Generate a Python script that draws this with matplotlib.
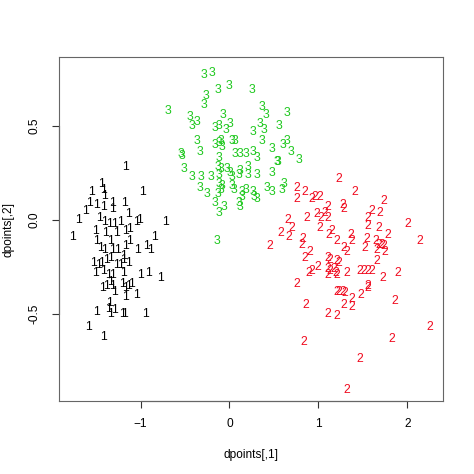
import matplotlib
matplotlib.use('Agg')
from matplotlib import pyplot as plt

# cluster 1 (black)
x1 = [-1.17, -1.44, -1.42, -1.55, -0.98, -1.41, -1.62, -1.57, -1.49, -1.42,
      -1.32, -1.32, -1.18, -1.70, -1.46, -1.41, -1.35, -1.29, -1.22, -1.14,
      -1.05, -1.01, -0.72, -1.77, -1.51, -1.49, -1.39, -1.34, -1.27, -1.17,
      -1.12, -1.12, -0.84, -1.45, -1.40, -1.32, -1.26, -1.17, -1.03, -0.93,
      -0.89, -1.19, -1.53, -1.47, -1.44, -1.38, -1.34, -1.27, -1.23, -1.19,
      -1.14, -1.51, -1.42, -1.36, -1.32, -1.19, -1.00, -0.91, -0.78, -1.43,
      -1.38, -1.34, -1.32, -1.29, -1.20, -1.17, -1.14, -1.10, -1.17, -1.04,
      -1.35, -1.36, -1.50, -1.34, -1.29, -1.20, -1.18, -0.94, -1.59, -1.42]
y1 = [0.28, 0.19, 0.16, 0.15, 0.15, 0.13, 0.05, 0.09, 0.08, 0.07,
      0.09, 0.06, 0.09, 0.00, 0.01, -0.01, -0.02, -0.02, -0.01, 0.03,
      -0.01, 0.00, -0.01, -0.09, -0.06, -0.11, -0.07, -0.11, -0.07, -0.06,
      -0.05, -0.11, -0.09, -0.15, -0.16, -0.16, -0.16, -0.14, -0.16, -0.14,
      -0.16, -0.19, -0.23, -0.24, -0.23, -0.21, -0.20, -0.24, -0.24, -0.21,
      -0.23, -0.28, -0.27, -0.29, -0.29, -0.28, -0.29, -0.28, -0.31, -0.36,
      -0.35, -0.33, -0.35, -0.38, -0.34, -0.36, -0.35, -0.34, -0.41, -0.40,
      -0.44, -0.47, -0.49, -0.50, -0.48, -0.50, -0.50, -0.50, -0.57, -0.62]

# cluster 2 (red)
x2 = [1.23, 0.76, 0.85, 1.41, 1.73, 0.76, 0.93, 0.96, 1.02, 1.10,
      1.27, 1.28, 1.60, 1.69, 1.56, 1.55, 1.68, 2.00, 0.87, 0.98,
      1.07, 1.03, 1.11, 0.66, 0.70, 0.58, 0.67, 1.02, 1.15, 1.12,
      1.21, 1.36, 1.37, 1.54, 1.65, 1.68, 1.71, 1.74, 1.78, 2.14,
      0.82, 0.81, 0.45, 1.29, 1.52, 0.85, 0.90, 0.99, 0.89, 0.92,
      1.32, 1.66, 1.75, 1.66, 1.10, 1.13, 1.21, 1.23, 1.10, 1.13,
      1.17, 1.19, 1.11, 1.21, 1.32, 1.46, 1.51, 1.56, 1.60, 1.72,
      1.89, 0.76, 1.21, 1.23, 1.27, 1.30, 1.38, 1.29, 1.38, 1.48,
      1.55, 1.56, 1.86, 0.86, 1.10, 1.21, 2.25, 0.83, 1.82, 1.46, 1.32]
y2 = [0.22, 0.17, 0.15, 0.15, 0.10, 0.11, 0.11, 0.12, 0.12, 0.07,
      0.08, 0.06, 0.05, 0.04, 0.01, -0.03, -0.04, -0.02, 0.01, 0.03,
      0.04, 0.01, 0.01, 0.00, -0.04, -0.07, -0.09, -0.04, -0.06, -0.08,
      -0.11, -0.08, -0.11, -0.10, -0.11, -0.13, -0.13, -0.14, -0.08, -0.11,
      -0.10, -0.13, -0.14, -0.15, -0.15, -0.20, -0.17, -0.25, -0.28, -0.27,
      -0.17, -0.16, -0.17, -0.22, -0.20, -0.21, -0.22, -0.23, -0.26, -0.27,
      -0.26, -0.28, -0.29, -0.29, -0.28, -0.27, -0.27, -0.27, -0.27, -0.31,
      -0.28, -0.34, -0.38, -0.38, -0.38, -0.39, -0.42, -0.45, -0.46, -0.40,
      -0.35, -0.36, -0.43, -0.45, -0.50, -0.51, -0.57, -0.65, -0.63, -0.74, -0.90]

# cluster 3 (green)
x3 = [-0.29, -0.20, -0.13, -0.01, 0.25, -0.27, -0.29, -0.69, -0.44, -0.42,
      -0.37, -0.07, 0.00, -0.04, -0.16, -0.12, 0.37, 0.41, 0.65, 0.34,
      0.39, 0.56, 0.26, -0.36, -0.16, -0.12, -0.09, -0.10, 0.03, 0.06,
      0.36, 0.48, 0.60, 0.65, -0.55, -0.53, -0.33, 0.06, 0.12, 0.18,
      0.26, 0.69, -0.12, 0.31, 0.53, 0.55, 0.78, -0.51, -0.42, -0.32,
      -0.21, -0.13, -0.12, -0.10, -0.03, 0.01, 0.03, 0.11, 0.12, 0.21,
      0.21, 0.31, 0.48, -0.33, -0.25, -0.13, -0.10, -0.08, -0.12, 0.03,
      0.05, 0.14, 0.18, 0.26, 0.31, 0.28, 0.42, 0.48, 0.59, 0.61,
      -0.16, -0.06, -0.12, 0.11, 0.12, 0.14, -0.14]
y3 = [0.77, 0.78, 0.69, 0.71, 0.69, 0.66, 0.61, 0.58, 0.55, 0.50,
      0.52, 0.56, 0.51, 0.48, 0.49, 0.50, 0.60, 0.56, 0.57, 0.51,
      0.48, 0.50, 0.47, 0.42, 0.40, 0.41, 0.39, 0.42, 0.42, 0.42,
      0.42, 0.38, 0.40, 0.42, 0.35, 0.34, 0.36, 0.35, 0.35, 0.35,
      0.36, 0.36, 0.33, 0.33, 0.31, 0.31, 0.32, 0.27, 0.23, 0.23,
      0.23, 0.28, 0.24, 0.27, 0.27, 0.25, 0.23, 0.24, 0.26, 0.24,
      0.28, 0.24, 0.25, 0.17, 0.14, 0.14, 0.16, 0.18, 0.19, 0.18,
      0.16, 0.15, 0.16, 0.15, 0.11, 0.12, 0.17, 0.15, 0.16, 0.19,
      0.09, 0.07, 0.04, 0.09, 0.07, 0.12, -0.11]

clusters = [(x1, y1, '1', 'black'),
            (x2, y2, '2', '#F00A1E'),
            (x3, y3, '3', '#1EC81E')]

plt.rcParams['font.family'] = ['Liberation Sans', 'DejaVu Sans']

fig = plt.figure(figsize=(4.74, 4.74), dpi=100)
ax = fig.add_axes([0.1238, 0.154, 0.8108, 0.7257])

for xs, ys, lab, col in clusters:
    assert len(xs) == len(ys)
    for x, y in zip(xs, ys):
        ax.text(x, y, lab, color=col, fontsize=8.8, ha='center', va='center')

ax.set_xlim(-1.92, 2.40)
ax.set_ylim(-0.961, 0.866)
ax.set_xticks([-1, 0, 1, 2])
ax.set_yticks([-0.5, 0.0, 0.5])
ax.set_yticklabels(['-0.5', '0.0', '0.5'], rotation=90, va='center')

for s in ax.spines.values():
    s.set_color('#666666')
    s.set_linewidth(0.8)
ax.tick_params(length=5, width=0.8, color='#333333', labelsize=8.6, pad=7)
ax.tick_params(axis='y', pad=8)

# R-style axis lines spanning the ticks
ax.plot([-1, 2], [0, 0], transform=ax.get_xaxis_transform(), color='#333333',
        lw=0.8, clip_on=False)
ax.plot([0, 0], [-0.5, 0.5], transform=ax.get_yaxis_transform(), color='#333333',
        lw=0.8, clip_on=False)

ax.set_xlabel('dpoints[,1]', fontsize=8.6, labelpad=14)
ax.set_ylabel('dpoints[,2]', fontsize=8.6, labelpad=10)

fig.savefig('out.png', dpi=100)
